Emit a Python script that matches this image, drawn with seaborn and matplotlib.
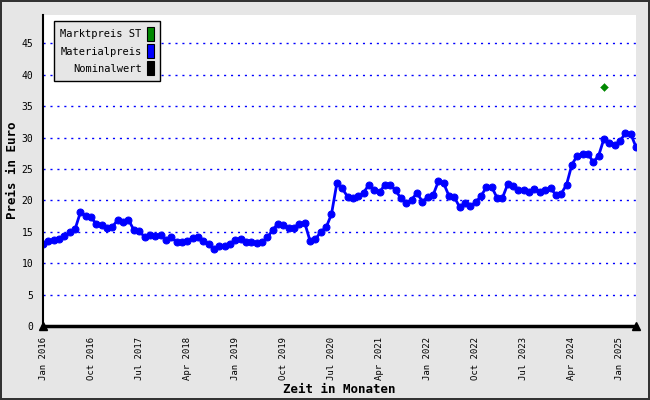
import matplotlib
matplotlib.use("Agg")
import matplotlib.pyplot as plt
from matplotlib.patches import Patch
import numpy as np
import pandas as pd
import seaborn as sns

# Monthly material price, Jan 2016 .. Apr 2025
materialpreis = [
    13.0, 13.5, 13.7, 13.9, 14.3, 14.9, 15.4, 18.1, 17.5, 17.3, 16.2, 16.0,
    15.6, 15.8, 16.9, 16.5, 16.9, 15.3, 15.1, 14.2, 14.5, 14.4, 14.5, 13.7,
    14.1, 13.4, 13.3, 13.5, 14.0, 14.1, 13.5, 13.0, 12.2, 12.7, 12.7, 13.0,
    13.7, 13.9, 13.4, 13.3, 13.2, 13.3, 14.1, 15.3, 16.3, 16.1, 15.6, 15.6,
    16.3, 16.4, 13.5, 13.8, 15.0, 15.7, 17.8, 22.7, 21.9, 20.6, 20.3, 20.7,
    21.2, 22.5, 21.6, 21.3, 22.5, 22.4, 21.6, 20.3, 19.6, 20.1, 21.2, 19.8,
    20.5, 20.8, 23.0, 22.7, 20.7, 20.5, 18.9, 19.6, 19.1, 19.7, 20.7, 22.1,
    22.1, 20.4, 20.4, 22.6, 22.3, 21.6, 21.7, 21.4, 21.85, 21.4, 21.7, 21.9,
    20.9, 21.05, 22.5, 25.7, 27.1, 27.4, 27.4, 26.1, 27.1, 29.8, 29.2, 28.8,
    29.4, 30.7, 30.6, 28.5,
]
start_month = "2016-01"

# Single market price point (Oct 2024)
marktpreis_month = ["2024-10"]
marktpreis = [38.0]

legend_labels = ["Marktpreis ST", "Materialpreis", "Nominalwert"]
legend_colors = ["#008800", "#0000ff", "#000000"]

months = pd.date_range(start_month, periods=len(materialpreis), freq="MS")
df = pd.DataFrame({"m": np.arange(len(months)), "preis": materialpreis})
mp_idx = [months.get_loc(pd.Timestamp(m)) for m in marktpreis_month]
df_mp = pd.DataFrame({"m": mp_idx, "preis": marktpreis})

sns.set_style("white")
plt.rcParams["font.family"] = ["DejaVu Sans Mono", "DejaVu Sans"]
plt.rcParams.update({"text.color": "black", "axes.labelcolor": "black",
                     "xtick.color": "black", "ytick.color": "black"})

bg = "#e6e6e6"
fig = plt.figure(figsize=(6.5, 4), dpi=100, facecolor=bg)
fig.patch.set_edgecolor("#333333")
fig.patch.set_linewidth(1.5)
ax = fig.add_axes([43 / 650, 74 / 400, 593 / 650, 311 / 400])
ax.set_facecolor("white")

sns.lineplot(data=df, x="m", y="preis", ax=ax, color="#0000ff", linewidth=2,
             marker="o", markersize=5, markeredgecolor="#0000ff", legend=False)
sns.scatterplot(data=df_mp, x="m", y="preis", ax=ax, color="#008800",
                marker="D", s=16, edgecolor="#008800", legend=False, zorder=5)

ax.set_xlim(0, len(months) - 1)
ax.set_ylim(0, 49.5)

# grid
for v in range(5, 50, 5):
    ax.axhline(v, color="#0000ff", lw=1, ls=(0, (1.5, 3.5)), zorder=0)

# axes styling
for s in ["top", "right"]:
    ax.spines[s].set_visible(False)
ax.spines["left"].set_linewidth(1.5)
ax.spines["bottom"].set_linewidth(2.5)
ax.spines["bottom"].set_color("black")
ax.spines["left"].set_color("black")
ax.plot([0], [0], marker="^", color="black", markersize=6, clip_on=False,
        transform=ax.transAxes, zorder=6)
ax.plot([1], [0], marker="^", color="black", markersize=6, clip_on=False,
        transform=ax.transAxes, zorder=6)

ax.set_yticks(range(0, 50, 5))
ax.set_yticklabels([str(v) for v in range(0, 50, 5)], fontsize=7)
ax.tick_params(axis="y", direction="inout", length=8, width=1, pad=3)

major = list(range(0, len(months), 9))
ax.set_xticks(major)
ax.set_xticklabels([months[i].strftime("%b %Y") for i in major],
                   rotation=90, fontsize=6.5)
ax.set_xticks(range(0, len(months), 4), minor=True)
ax.tick_params(axis="x", which="major", length=0, pad=8)
ax.tick_params(axis="x", which="minor", direction="inout", length=9, width=1)

ax.set_xlabel("Zeit in Monaten", fontsize=9, fontweight="bold", labelpad=2)
ax.set_ylabel("Preis in Euro", fontsize=9, fontweight="bold")
ax.yaxis.set_label_coords(-0.04, 0.5)

handles = [Patch(facecolor=c, edgecolor="black", linewidth=0.8) for c in legend_colors]
leg = ax.legend(handles, legend_labels, loc="upper left", bbox_to_anchor=(0.01, 0.997),
                markerfirst=False, fancybox=False, framealpha=1, facecolor=bg,
                edgecolor="black", fontsize=7.5, handlelength=0.7, handleheight=1.6,
                handletextpad=0.5, labelspacing=0.35, borderpad=0.6)
leg.get_frame().set_linewidth(1)
for t in leg.get_texts():
    t.set_ha("right")
    t.set_color("black")
leg._legend_box.align = "right"

fig.savefig("out.png", dpi=100, facecolor=bg, edgecolor="#333333")
